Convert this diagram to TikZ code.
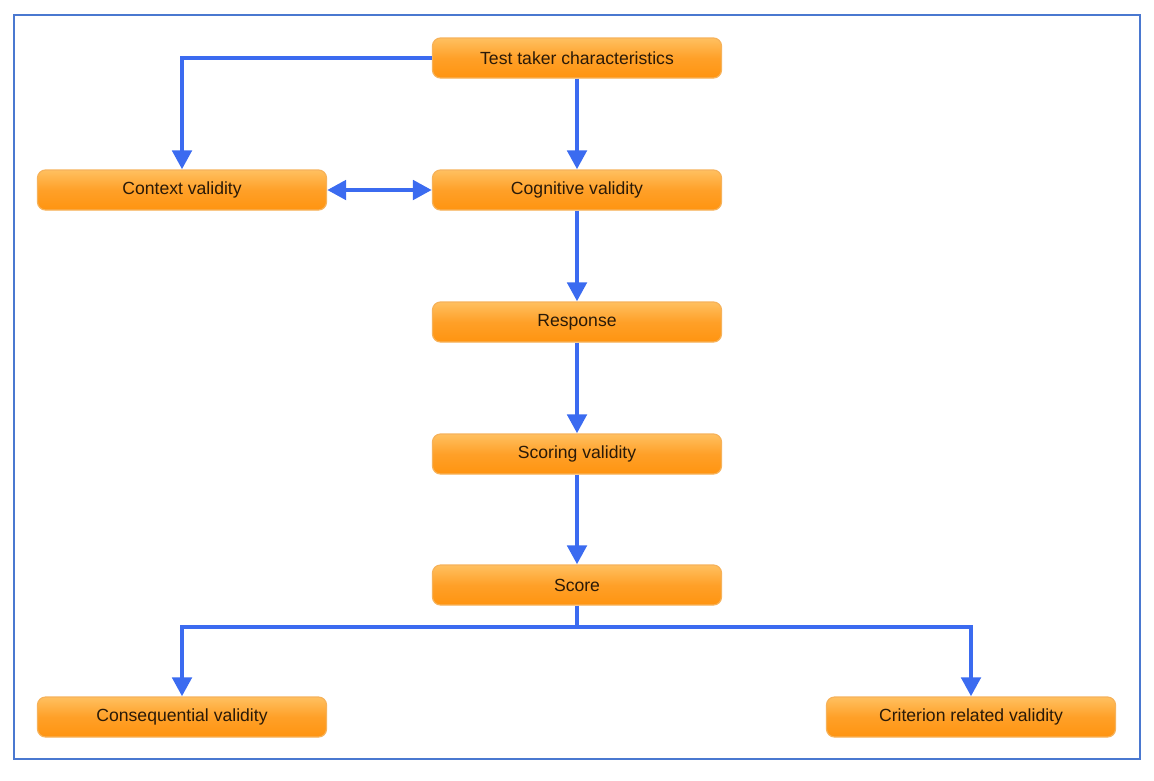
\documentclass[tikz,border=0pt]{standalone}
\usepackage{fontspec}
\setmainfont{Liberation Sans}
\usetikzlibrary{arrows.meta}
\definecolor{lineblue}{HTML}{3B6BF0}
\definecolor{framebl}{HTML}{4A78D0}
\definecolor{otop}{HTML}{FFC060}
\definecolor{omid}{HTML}{FFA028}
\definecolor{obot}{HTML}{FF9410}
\definecolor{oborder}{HTML}{F6B25A}
\definecolor{txt}{HTML}{2A1A08}
\tikzset{
  x=1pt, y=-1pt,
  box/.style={draw=oborder, line width=1.2pt, rounded corners=8pt,
    minimum width=289pt, minimum height=40pt, inner sep=0pt,
    top color=otop, bottom color=obot, middle color=omid,
    text=txt, font=\fontsize{17.6}{20}\selectfont},
  conn/.style={draw=lineblue, line width=4.8pt,
    -{Triangle[length=19pt,width=19pt]}},
  dconn/.style={draw=lineblue, line width=4.8pt,
    {Triangle[length=19pt,width=19pt]}-{Triangle[length=19pt,width=19pt]}},
}
\begin{document}
\begin{tikzpicture}
\useasboundingbox (0,0) rectangle (1154,780);
\draw[framebl, line width=2pt] (14,15) rectangle (1140,759);
\node[box] (ttc) at (577,58) {Test taker characteristics};
\node[box] (ctx) at (182,190) {Context validity};
\node[box] (cog) at (577,190) {Cognitive validity};
\node[box] (resp) at (577,322) {Response};
\node[box] (scv) at (577,454) {Scoring validity};
\node[box] (score) at (577,585) {Score};
\node[box] (cons) at (182,717) {Consequential validity};
\node[box] (crit) at (971,717) {Criterion related validity};
\coordinate (br) at (577,627);
\draw[conn] (ttc.west) -| (ctx.north);
\draw[conn] (ttc) -- (cog);
\draw[dconn] (ctx) -- (cog);
\draw[conn] (cog) -- (resp);
\draw[conn] (resp) -- (scv);
\draw[conn] (scv) -- (score);
\draw[draw=lineblue, line width=4.8pt] (score.south) -- (br);
\draw[conn] (br) -| (cons.north);
\draw[conn] (br) -| (crit.north);
\end{tikzpicture}
\end{document}
